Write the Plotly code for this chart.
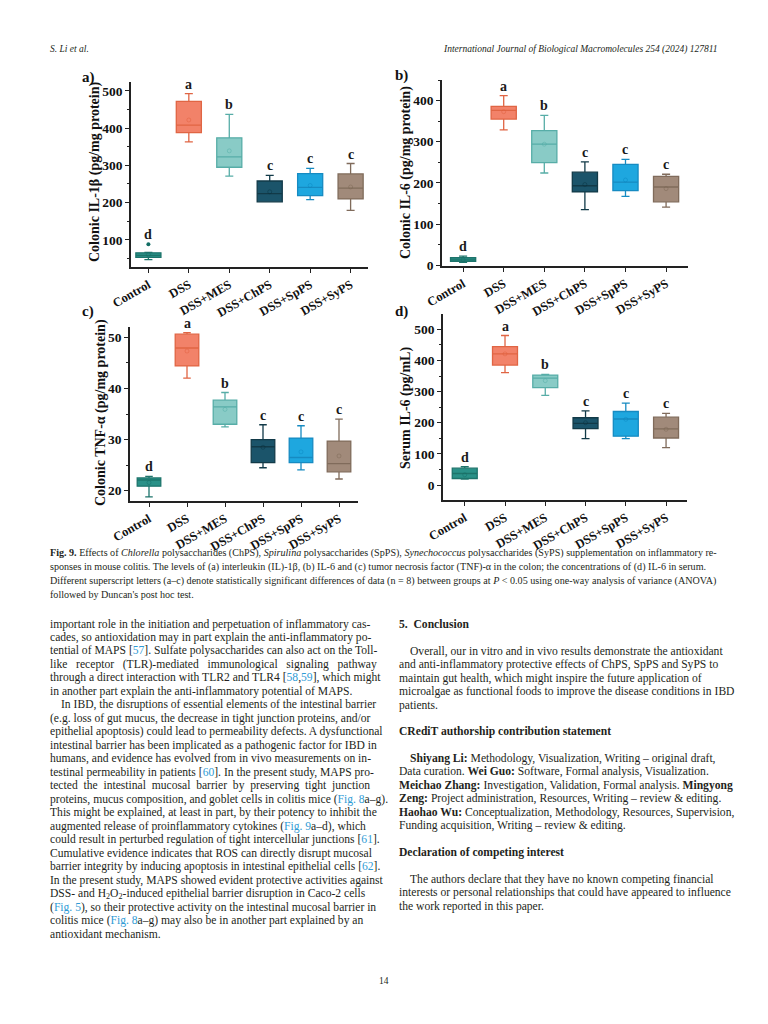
import plotly.graph_objects as go

# page is drawn inside the browser's default 8px body margin
OFF = 8
W, H = 768 - OFF, 1024 - OFF

categories = ["Control", "DSS", "DSS+MES", "DSS+ChPS", "DSS+SpPS", "DSS+SyPS"]
sig_letters = ["d", "a", "b", "c", "c", "c"]

# (a) Colonic IL-1beta (pg/mg protein)
il1b_lo = [47, 363, 271, 202, 208, 179]
il1b_q1 = [53, 388, 295, 202, 219, 210]
il1b_med = [58, 408, 323, 224, 241, 239]
il1b_q3 = [65, 472, 374, 258, 278, 277]
il1b_hi = [66, 493, 437, 273, 292, 305]
il1b_mean = [60, 422, 339, 229, 246, 242]
il1b_outlier = [88]

# (b) Colonic IL-6 (pg/mg protein)
il6c_lo = [7, 329, 224, 135, 167, 141]
il6c_q1 = [9, 355, 249, 178, 181, 154]
il6c_med = [13, 376, 294, 193, 202, 190]
il6c_q3 = [18, 386, 327, 226, 245, 216]
il6c_hi = [22, 412, 364, 251, 257, 221]
il6c_mean = [13, 373, 294, 196, 207, 186]

# (c) Colonic TNF-alpha (pg/mg protein)
tnf_lo = [18.8, 42.0, 32.5, 24.5, 24.1, 22.3]
tnf_q1 = [20.9, 44.4, 33.0, 25.5, 25.5, 23.7]
tnf_med = [22.1, 47.9, 36.4, 28.6, 26.5, 25.3]
tnf_q3 = [22.5, 50.6, 37.7, 30.0, 30.3, 29.7]
tnf_hi = [22.8, 50.9, 39.2, 32.9, 32.7, 34.0]
tnf_mean = [21.6, 47.3, 35.9, 28.5, 27.6, 26.8]

# (d) Serum IL-6 (pg/mL)
il6s_lo = [19, 361, 288, 149, 149, 120]
il6s_q1 = [21, 385, 313, 181, 157, 151]
il6s_med = [37, 421, 343, 198, 212, 180]
il6s_q3 = [54, 444, 353, 216, 236, 218]
il6s_hi = [59, 480, 355, 238, 263, 230]
il6s_mean = [33, 421, 335, 200, 211, 179]

fills = ["#1f8c82", "#f27c62", "#83c9c4", "#0f4b63", "#13a3de", "#9c8473"]
edges = ["#126d64", "#df5d3a", "#4fa9a3", "#06303f", "#0a85bf", "#7a6453"]

SERIF = "Liberation Serif"
INK = "#231f20"
LINK = "#2f9bd5"

fig = go.Figure()

def fx(px):
    return (px - OFF) / W

def fy(py):
    return 1 - (py - OFF) / H

panels = [
    dict(ax="", lo=il1b_lo, q1=il1b_q1, med=il1b_med, q3=il1b_q3, hi=il1b_hi, mean=il1b_mean,
         dom_x=(131, 368), dom_y=(82, 267), rng=[27, 524], xr=[-0.43, 5.43], dt=100, minor=50,
         title="Colonic IL-1β (pg/mg protein)", tx=95, ty=172, lab="a)", lx=88, ly=78),
    dict(ax="2", lo=il6c_lo, q1=il6c_q1, med=il6c_med, q3=il6c_q3, hi=il6c_hi, mean=il6c_mean,
         dom_x=(442, 688), dom_y=(80, 266), rng=[-2, 450], xr=[-0.52, 5.54], dt=100, minor=50,
         title="Colonic IL-6 (pg/mg protein)", tx=406, ty=173, lab="b)", lx=401, ly=75),
    dict(ax="3", lo=tnf_lo, q1=tnf_q1, med=tnf_med, q3=tnf_q3, hi=tnf_hi, mean=tnf_mean,
         dom_x=(130, 358), dom_y=(327, 501), rng=[18, 52], xr=[-0.5, 5.5], dt=10, minor=5,
         title="Colonic TNF-α (pg/mg protein)", tx=101, ty=413, lab="c)", lx=88, ly=311),
    dict(ax="4", lo=il6s_lo, q1=il6s_q1, med=il6s_med, q3=il6s_q3, hi=il6s_hi, mean=il6s_mean,
         dom_x=(443, 687), dom_y=(314, 500), rng=[-48, 549], xr=[-0.54, 5.52], dt=100, minor=50,
         title="Serum IL-6 (pg/mL)", tx=406, ty=408, lab="d)", lx=401, ly=311),
]

annotations = []

for p in panels:
    xa = "x" + p["ax"]
    ya = "y" + p["ax"]
    for i, c in enumerate(categories):
        fig.add_trace(go.Box(
            x=[c], q1=[p["q1"][i]], median=[p["med"][i]], q3=[p["q3"][i]],
            lowerfence=[p["lo"][i]], upperfence=[p["hi"][i]],
            fillcolor=fills[i], line=dict(color=edges[i], width=1.3),
            width=0.62, whiskerwidth=0.32, boxpoints=False, opacity=0.95,
            xaxis=xa, yaxis=ya, showlegend=False, hoverinfo="skip"))
        top = p["hi"][i]
        if p["ax"] == "" and i == 0:
            top = il1b_outlier[0]
        annotations.append(dict(
            x=c, y=top, xref=xa, yref=ya, text="<b>%s</b>" % sig_letters[i],
            showarrow=False, yanchor="bottom", yshift=0,
            font=dict(family=SERIF, size=14, color="#1a1a1a")))
    fig.add_trace(go.Scatter(
        x=categories, y=p["mean"], mode="markers", xaxis=xa, yaxis=ya,
        marker=dict(symbol="circle-open", size=4, color=edges, opacity=0.55, line=dict(width=0.8)),
        showlegend=False, hoverinfo="skip"))
    if p["ax"] == "":
        fig.add_trace(go.Scatter(
            x=["Control"], y=il1b_outlier, mode="markers", xaxis=xa, yaxis=ya,
            marker=dict(symbol="circle", size=4, color=edges[0]),
            showlegend=False, hoverinfo="skip"))
    annotations.append(dict(
        x=fx(p["tx"]), y=fy(p["ty"]), xref="paper", yref="paper", text="<b>%s</b>" % p["title"],
        textangle=-90, showarrow=False, xanchor="center", yanchor="middle",
        font=dict(family=SERIF, size=14, color="#111")))
    annotations.append(dict(
        x=fx(p["lx"]), y=fy(p["ly"]), xref="paper", yref="paper", text="<b>%s</b>" % p["lab"],
        showarrow=False, xanchor="center", yanchor="middle",
        font=dict(family=SERIF, size=15, color="#111")))

    xkey = "xaxis" + p["ax"]
    ykey = "yaxis" + p["ax"]
    fig.update_layout(**{
        xkey: dict(domain=[fx(p["dom_x"][0]), fx(p["dom_x"][1])], anchor=ya, automargin=False,
                   type="category", categoryorder="array", categoryarray=categories,
                   range=p["xr"], showline=True, linecolor="#222", linewidth=1.5,
                   ticks="outside", ticklen=4, tickcolor="#222", tickwidth=1.2,
                   tickangle=-30, showgrid=False, zeroline=False,
                   tickfont=dict(family=SERIF, size=12.5, color="#111", weight="bold")),
        ykey: dict(domain=[fy(p["dom_y"][1]), fy(p["dom_y"][0])], anchor=xa, automargin=False,
                   range=p["rng"], dtick=p["dt"], tick0=0, showline=True,
                   linecolor="#222", linewidth=1.5, ticks="outside", ticklen=4,
                   tickcolor="#222", tickwidth=1.2, showgrid=False, zeroline=False,
                   minor=dict(ticks="outside", ticklen=2.5, dtick=p["minor"], tickcolor="#222",
                              showgrid=False),
                   tickfont=dict(family=SERIF, size=13.5, color="#111", weight="bold")),
    })

def link(t):
    return '<span style="color:%s">%s</span>' % (LINK, t)

header_left = "S. Li et al."
header_right = "International Journal of Biological Macromolecules 254 (2024) 127811"
page_number = "14"

caption_lines = [
    "<b>Fig. 9.</b> Effects of <i>Chlorella</i> polysaccharides (ChPS), <i>Spirulina</i> polysaccharides (SpPS), "
    "<i>Synechococcus</i> polysaccharides (SyPS) supplementation on inflammatory re-",
    "sponses in mouse colitis. The levels of (a) interleukin (IL)-1β, (b) IL-6 and (c) tumor necrosis factor "
    "(TNF)-α in the colon; the concentrations of (d) IL-6 in serum.",
    "Different superscript letters (a–c) denote statistically significant differences of data (n = 8) between "
    "groups at <i>P</i> &lt; 0.05 using one-way analysis of variance (ANOVA)",
    "followed by Duncan's post hoc test.",
]

left_lines = [
    (0, "important role in the initiation and perpetuation of inflammatory cas-"),
    (0, "cades, so antioxidation may in part explain the anti-inflammatory po-"),
    (0, "tential of MAPS [" + link("57") + "]. Sulfate polysaccharides can also act on the Toll-"),
    (0, "like&nbsp;&nbsp; receptor&nbsp;&nbsp; (TLR)-mediated&nbsp;&nbsp; immunological&nbsp;&nbsp; signaling&nbsp;&nbsp; pathway"),
    (0, "through a direct interaction with TLR2 and TLR4 [" + link("58") + "," + link("59") + "], which might"),
    (0, "in another part explain the anti-inflammatory potential of MAPS."),
    (1, "In IBD, the disruptions of essential elements of the intestinal barrier"),
    (0, "(e.g. loss of gut mucus, the decrease in tight junction proteins, and/or"),
    (0, "epithelial apoptosis) could lead to permeability defects. A dysfunctional"),
    (0, "intestinal barrier has been implicated as a pathogenic factor for IBD in"),
    (0, "humans, and evidence has evolved from in vivo measurements on in-"),
    (0, "testinal permeability in patients [" + link("60") + "]. In the present study, MAPS pro-"),
    (0, "tected&nbsp; the&nbsp; intestinal&nbsp; mucosal&nbsp; barrier&nbsp; by&nbsp; preserving&nbsp; tight&nbsp; junction"),
    (0, "proteins, mucus composition, and goblet cells in colitis mice (" + link("Fig. 8") + "a–g)."),
    (0, "This might be explained, at least in part, by their potency to inhibit the"),
    (0, "augmented release of proinflammatory cytokines (" + link("Fig. 9") + "a–d), which"),
    (0, "could result in perturbed regulation of tight intercellular junctions [" + link("61") + "]."),
    (0, "Cumulative evidence indicates that ROS can directly disrupt mucosal"),
    (0, "barrier integrity by inducing apoptosis in intestinal epithelial cells [" + link("62") + "]."),
    (0, "In the present study, MAPS showed evident protective activities against"),
    (0, "DSS- and H<sub>2</sub>O<sub>2</sub>-induced epithelial barrier disruption in Caco-2 cells"),
    (0, "(" + link("Fig. 5") + "), so their protective activity on the intestinal mucosal barrier in"),
    (0, "colitis mice (" + link("Fig. 8") + "a–g) may also be in another part explained by an"),
    (0, "antioxidant mechanism."),
]

right_blocks = [
    (624, 0, "<b>5.&nbsp; Conclusion</b>"),
    (651, 1, "Overall, our in vitro and in vivo results demonstrate the antioxidant"),
    (664, 0, "and anti-inflammatory protective effects of ChPS, SpPS and SyPS to"),
    (678, 0, "maintain gut health, which might inspire the future application of"),
    (691, 0, "microalgae as functional foods to improve the disease conditions in IBD"),
    (705, 0, "patients."),
    (731, 0, "<b>CRediT authorship contribution statement</b>"),
    (758, 1, "<b>Shiyang Li:</b> Methodology, Visualization, Writing – original draft,"),
    (771, 0, "Data curation. <b>Wei Guo:</b> Software, Formal analysis, Visualization."),
    (785, 0, "<b>Meichao Zhang:</b> Investigation, Validation, Formal analysis. <b>Mingyong</b>"),
    (798, 0, "<b>Zeng:</b> Project administration, Resources, Writing – review &amp; editing."),
    (812, 0, "<b>Haohao Wu:</b> Conceptualization, Methodology, Resources, Supervision,"),
    (825, 0, "Funding acquisition, Writing – review &amp; editing."),
    (852, 0, "<b>Declaration of competing interest</b>"),
    (879, 1, "The authors declare that they have no known competing financial"),
    (892, 0, "interests or personal relationships that could have appeared to influence"),
    (906, 0, "the work reported in this paper."),
]

def txt(x, y, t, size, anchor="left", italic=False, color=INK):
    annotations.append(dict(
        x=fx(x), y=fy(y), xref="paper", yref="paper", text=t, showarrow=False,
        xanchor=anchor, yanchor="middle", align=anchor,
        font=dict(family=SERIF, size=size, color=color, style="italic" if italic else "normal")))

txt(48, 49, header_left, 9.5, italic=True)
txt(720, 49, header_right, 9.5, anchor="right", italic=True)
txt(384, 981, page_number, 9.5, anchor="center")

for k, line in enumerate(caption_lines):
    txt(48, 553 + k * 13.8, line, 10.1)

for k, (ind, line) in enumerate(left_lines):
    txt(48 + ind * 11, 624 + k * 13.48, line, 11.6)

for y, ind, line in right_blocks:
    txt(397 + ind * 11, y, line, 11.6)

fig.update_layout(
    template="none",
    width=W, height=H, margin=dict(l=0, r=0, t=0, b=0, pad=0, autoexpand=False),
    paper_bgcolor="white", plot_bgcolor="white",
    boxmode="overlay", annotations=annotations,
    font=dict(family=SERIF, color=INK),
)

fig.write_html("out.html")
